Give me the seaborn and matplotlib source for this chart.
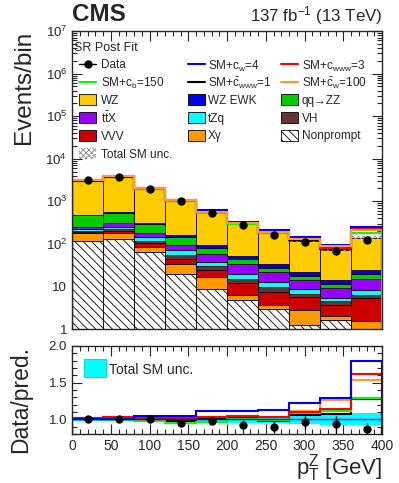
import numpy as np
import pandas as pd
import matplotlib
matplotlib.use("Agg")
import matplotlib.pyplot as plt
import seaborn as sns
from matplotlib.patches import Rectangle
from matplotlib.lines import Line2D
from matplotlib.ticker import MultipleLocator, LogLocator, NullFormatter

# bins of pT(Z) in GeV
edges = np.arange(0, 401, 40)
centers = edges[:-1] + 20

# post-fit yields per bin
nonprompt = [116, 132, 63, 20, 8.5, 4.8, 2.95, 1.24, 1.63, 0.6]
xgamma = [61, 50, 22, 13, 8.5, 1.5, 0.7, 1.56, 0.37, 0.97]
vvv = [12, 21, 21, 12, 7, 5.5, 3.8, 2.7, 1.66, 3.9]
vh = [14, 15, 8, 10, 6, 2.9, 2.0, 1.1, 0.84, 0.8]
tzq = [23, 34, 28, 16, 8, 4.8, 3.0, 1.9, 0.9, 1.9]
ttx = [26, 50, 37, 23, 19, 13.5, 8.9, 5.6, 3.6, 6.7]
qqzz = [213, 233, 112, 48, 24, 10, 6.1, 3.7, 2.4, 4.6]
wz_ewk = [15, 34, 16, 19, 11, 8, 5.5, 4.0, 2.5, 5.5]
wz = [2580, 3181, 1683, 886, 459, 247, 150, 96, 58, 114]
data = [3090, 3770, 1990, 1000, 540, 277, 165, 113, 67, 121]
rel_unc = [0.025, 0.025, 0.025, 0.03, 0.03, 0.05, 0.05, 0.07, 0.08, 0.08]

# EFT hypotheses as ratio to the SM prediction
r_cw4 = [1.00, 1.01, 1.045, 1.045, 1.11, 1.11, 1.13, 1.22, 1.29, 1.80]
r_cwww3 = [1.015, 1.03, 1.02, 1.02, 1.03, 1.04, 1.03, 1.10, 1.14, 1.62]
r_cb150 = [1.02, 0.99, 0.98, 0.955, 0.97, 1.00, 0.99, 1.08, 1.11, 1.29]
r_cbwww1 = [1.00, 1.00, 1.00, 0.98, 1.00, 1.02, 0.98, 1.055, 1.07, 1.28]
r_cbw100 = [1.015, 1.03, 1.02, 1.02, 1.03, 1.04, 1.03, 1.11, 1.27, 1.53]

procs = {"WZ": wz, "WZ EWK": wz_ewk, "qq→ZZ": qqzz, "ttX": ttx, "tZq": tzq,
         "VH": vh, "VVV": vvv, "Xγ": xgamma, "Nonprompt": nonprompt}
colors = {"WZ": "#ffcc00", "WZ EWK": "#0000ee", "qq→ZZ": "#00cc00", "ttX": "#9900ff",
          "tZq": "#00ffff", "VH": "#663333", "VVV": "#cc0000", "Xγ": "#ff9900",
          "Nonprompt": "#ffffff"}
HATCH = "\\\\\\\\"

rows = []
for name, vals in procs.items():
    for c, v in zip(centers, vals):
        rows.append({"pt": c, "events": v, "process": name})
df = pd.DataFrame(rows)

sm = np.sum([np.array(v, dtype=float) for v in procs.values()], axis=0)
data = np.array(data, dtype=float)
unc = np.array(rel_unc)

sns.set_style("ticks")
plt.rcParams["font.family"] = ["Liberation Sans", "DejaVu Sans"]
plt.rcParams["mathtext.fontset"] = "custom"
plt.rcParams["mathtext.rm"] = "Liberation Sans"
plt.rcParams["mathtext.it"] = "Liberation Sans:italic"
plt.rcParams["mathtext.bf"] = "Liberation Sans:bold"
plt.rcParams["mathtext.default"] = "regular"
plt.rcParams["hatch.linewidth"] = 0.6

fig = plt.figure(figsize=(3.99, 4.83), dpi=100)
ax = fig.add_axes([72/399, 1-329/483, 310/399, 298/483])
rax = fig.add_axes([72/399, 1-434/483, 310/399, 88/483])

#stacked backgrounds
sns.histplot(data=df, x="pt", weights="events", hue="process", hue_order=list(procs.keys()),
             palette=colors, multiple="stack", bins=[float(e) for e in edges], element="bars",
             alpha=1, edgecolor="black", linewidth=0.6, legend=False, ax=ax)
for p in ax.patches:
    if tuple(p.get_facecolor()[:3]) == (1.0, 1.0, 1.0):
        p.set_hatch(HATCH)
ax.set_yscale("log")

# uncertainty on total
ax.stairs(sm*(1+unc), edges, baseline=sm*(1-unc), fill=True, facecolor="none",
          edgecolor="#888888", hatch="xxxxxx", lw=0)

line_specs = [("cbwww", r_cbwww1, "black"),
              ("cb", r_cb150, "#00ff00"),
              ("cwww", r_cwww3, "#ff0000"),
              ("cw", r_cw4, "#0000ff"),
              ("cbw", r_cbw100, "#ff9933")]
for lab, r, col in line_specs:
    ax.stairs(sm*np.array(r), edges, color=col, lw=1.5)

ax.errorbar(centers, data, yerr=np.sqrt(data), fmt="o", color="black", ms=5,
            elinewidth=1, capsize=0)

ax.set_xlim(0, 400)
ax.set_ylim(1, 1e7)
ax.set_yticks([1, 10, 1e2, 1e3, 1e4, 1e5, 1e6, 1e7],
              ["1", "10", "$10^{2}$", "$10^{3}$", "$10^{4}$", "$10^{5}$", "$10^{6}$", "$10^{7}$"])
ax.yaxis.set_minor_locator(LogLocator(base=10, subs=np.arange(2, 10)))
ax.yaxis.set_minor_formatter(NullFormatter())
ax.xaxis.set_major_locator(MultipleLocator(50))
ax.xaxis.set_minor_locator(MultipleLocator(10))
ax.tick_params(axis="x", labelbottom=False)
ax.set_xlabel("")
ax.set_ylabel("Events/bin", fontsize=17.5, loc="top")
ax.yaxis.set_label_coords(-0.118, 1.0)

# legend, laid out in ROOT style on a fixed grid
fs = 8.5
W, H = 310.0, 298.0
row_y = [64, 81.7, 99.3, 117.3, 135, 153.3]
col_x = [(79, 101), (188, 208), (281, 302)]
entries = [
    [("data", None, "Data"), ("line", "#0000ff", "SM+c$_{w}$=4"), ("line", "#ff0000", "SM+c$_{www}$=3")],
    [("line", "#00ff00", "SM+c$_{b}$=150"), ("line", "black", "SM+$\\bar{c}_{www}$=1"),
     ("line", "#ff9933", "SM+$\\bar{c}_{w}$=100")],
    [("box", "WZ", "WZ"), ("box", "WZ EWK", "WZ EWK"), ("box", "qq→ZZ", "qq→ZZ")],
    [("box", "ttX", "t$\\bar{t}$X"), ("box", "tZq", "tZq"), ("box", "VH", "VH")],
    [("box", "VVV", "VVV"), ("box", "Xγ", "Xγ"), ("box", "Nonprompt", "Nonprompt")],
    [("unc", None, "Total SM unc.")],
]
for ry, row in zip(row_y, entries):
    yc = (329 - ry) / H
    for (kind, key, label), (hx, tx) in zip(row, col_x):
        x0 = (hx - 72) / W
        w = 17 / W
        if kind == "box":
            ax.add_patch(Rectangle((x0, yc - 5.5/H), w, 11/H, transform=ax.transAxes,
                                   facecolor=colors[key], edgecolor="black", lw=0.6,
                                   hatch=HATCH if key == "Nonprompt" else None))
        elif kind == "unc":
            ax.add_patch(Rectangle((x0, yc - 5.5/H), w, 11/H, transform=ax.transAxes,
                                   facecolor="white", edgecolor="#888888", lw=0,
                                   hatch="xxxxxx"))
        elif kind == "line":
            ax.add_line(Line2D([x0, x0 + w], [yc, yc], transform=ax.transAxes, color=key, lw=1.5))
        else:
            ax.add_line(Line2D([x0, x0 + w], [yc, yc], transform=ax.transAxes, color="black", lw=1))
            ax.add_line(Line2D([x0 + w/2], [yc], transform=ax.transAxes, color="black",
                               marker="o", ms=5))
        ax.text((tx - 72) / W, yc, label, transform=ax.transAxes, fontsize=fs,
                va="center_baseline", ha="left")
ax.text(0.008, (329 - 46.5) / H, "SR Post Fit", transform=ax.transAxes, fontsize=9,
        va="center_baseline")

# ratio panel
rax.stairs(1+unc, edges, baseline=1-unc, fill=True, color="#00ffff", lw=0)
rax.axhline(1, color="#0000ff", lw=1)
for lab, r, col in line_specs[:2] + [line_specs[4], line_specs[2], line_specs[3]]:
    rax.stairs(r, edges, color=col, lw=1.5)
rax.errorbar(centers, data/sm, yerr=np.sqrt(data)/sm, fmt="o", color="black", ms=5,
             elinewidth=1, capsize=0)
rax.set_xlim(0, 400)
rax.set_ylim(0.8, 2.0)
rax.yaxis.set_minor_locator(MultipleLocator(0.1))
rax.xaxis.set_major_locator(MultipleLocator(50))
rax.xaxis.set_minor_locator(MultipleLocator(10))
rax.set_yticks([1.0, 1.5, 2.0], ["1.0", "1.5", "2.0"])
rax.set_ylabel("Data/pred.", fontsize=16.5, loc="top")
rax.yaxis.set_label_coords(-0.128, 1.0)
rax.set_xlabel("$p_{T}^{Z}$ [GeV]", fontsize=16, loc="right")
rax.xaxis.set_label_coords(1.0, -0.2)
rax.add_patch(Rectangle(((84-72)/W, (434-377)/88), 22/W, 18/88, transform=rax.transAxes,
                        facecolor="#00ffff", edgecolor="#00cccc", lw=0.6))
rax.text((109-72)/W, (434-368)/88, "Total SM unc.", transform=rax.transAxes, fontsize=10,
         va="center_baseline", ha="left")

for a in (ax, rax):
    a.tick_params(which="both", direction="in", top=True, right=True, width=0.8, labelsize=9.5)
    a.tick_params(which="major", length=7)
    a.tick_params(which="minor", length=3.5)
    for s in a.spines.values():
        s.set_linewidth(1.0)
rax.tick_params(axis="x", labelsize=10)

fig.text(72/399, 1-21/483, "CMS", fontsize=17.5, fontweight="bold", va="baseline", ha="left")
fig.text(382/399, 1-21/483, "137 fb$^{-1}$ (13 TeV)", fontsize=12.2, va="baseline", ha="right")

fig.savefig("out.png", dpi=100)
